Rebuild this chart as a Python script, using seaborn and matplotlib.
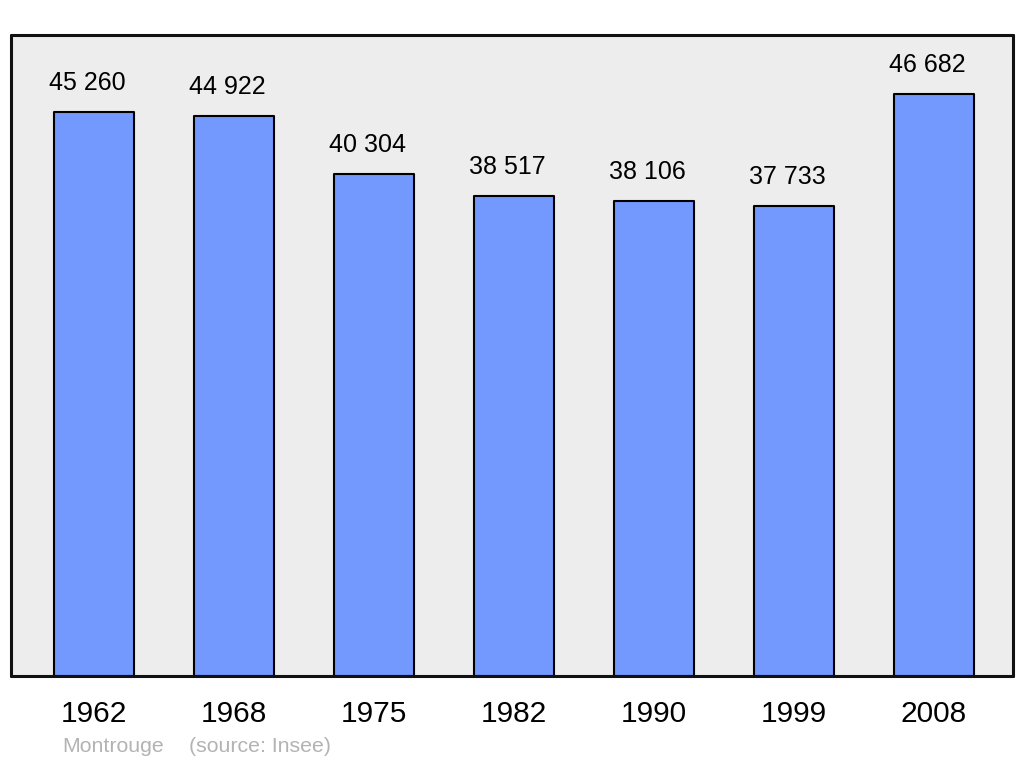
import matplotlib
matplotlib.use("Agg")
import matplotlib.pyplot as plt
import seaborn as sns
import pandas as pd

years = ["1962", "1968", "1975", "1982", "1990", "1999", "2008"]
population = [45260, 44922, 40304, 38517, 38106, 37733, 46682]
value_labels = ["45 260", "44 922", "40 304", "38 517", "38 106", "37 733", "46 682"]

df = pd.DataFrame({"year": years, "population": population})

sns.set_style("white")
plt.rcParams["font.family"] = ["Liberation Sans", "DejaVu Sans"]

fig = plt.figure(figsize=(10.24, 7.65), dpi=100)
ax = fig.add_axes([11 / 1024, 89 / 765, 1002 / 1024, 641 / 765])
ax.set_facecolor("#ededed")

sns.barplot(data=df, x="year", y="population", color="#7399ff", saturation=1,
            width=0.575, edgecolor="black", linewidth=1.5, ax=ax)
for p in ax.patches:
    p.set_joinstyle("round")

# value labels above the bars
for i, (v, lab) in enumerate(zip(population, value_labels)):
    ax.annotate(lab, (i, v), xytext=(-4.5, 21), textcoords="offset points",
                ha="center", va="center", fontsize=18, color="black")

ax.set_xlim(-0.593, 6.564)
ax.set_ylim(0, 51440)
ax.set_yticks([])
ax.set_xlabel("")
ax.set_ylabel("")
ax.tick_params(axis="x", length=0, labelsize=21.5, pad=17, labelcolor="black")
for s in ax.spines.values():
    s.set_linewidth(2.2)
    s.set_color("#111111")
    s.set_capstyle("round")
    s.set_joinstyle("round")

fig.text(62 / 1024, 1 - 746 / 765, "Montrouge", color="#b3b3b3", fontsize=15.3, va="center")
fig.text(189 / 1024, 1 - 746 / 765, "(source: Insee)", color="#b3b3b3", fontsize=15.3, va="center")

fig.savefig("out.png", dpi=100)
